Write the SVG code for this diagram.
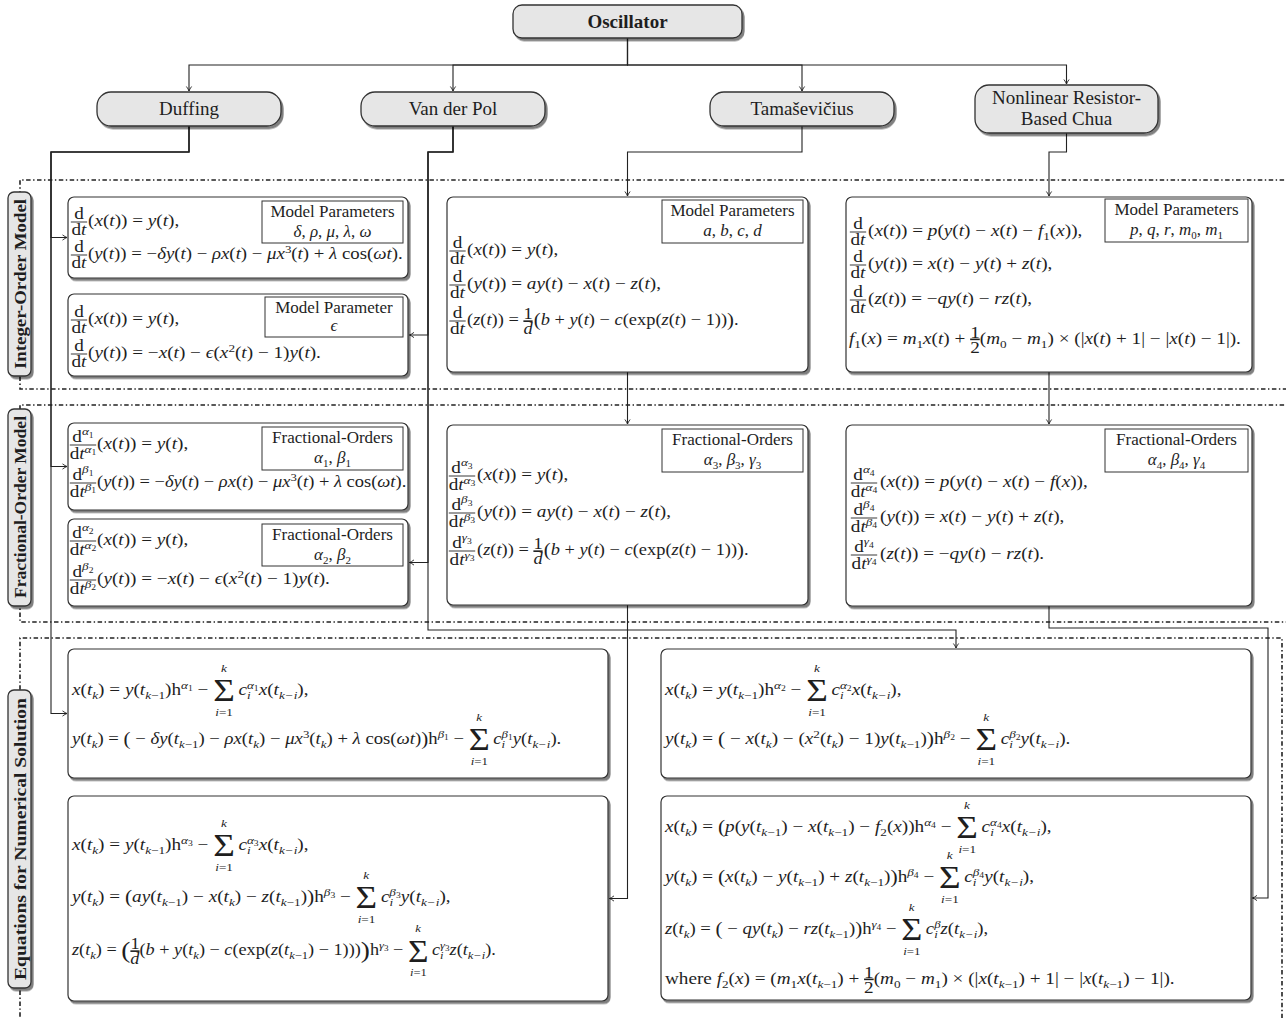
<svg xmlns="http://www.w3.org/2000/svg" width="1286" height="1018" viewBox="0 0 1286 1018">
<style>
.m{font-family:"Liberation Serif","Times New Roman",serif;font-size:16px;fill:#1e1e1e}
.v{font-style:italic}
.u{font-style:normal}
.sp{font-size:11px;baseline-shift:6px}
.sb{font-size:11px;baseline-shift:-3.5px}
.ss{font-size:8px;baseline-shift:-2px;font-style:normal}
.sg{font-size:31px;baseline-shift:-6.4px}
.lk{font-size:11px;baseline-shift:23px;font-style:italic}
.li{font-size:11px;baseline-shift:-21px}
.bp{font-size:18px;baseline-shift:-0.8px}
.Bp{font-size:24px;baseline-shift:-2.6px}
.nu{baseline-shift:6px;text-decoration:underline}
.de{baseline-shift:-9px}
.box{fill:#fff;stroke:#333;stroke-width:1.2;filter:url(#sh)}
.hd{fill:#e6e6e6;stroke:#333;stroke-width:1.3;filter:url(#sh)}
.pb{fill:#fff;stroke:#333;stroke-width:1}
.lb{font-family:"Liberation Serif",serif;font-size:17px;fill:#1e1e1e}
.ht{font-family:"Liberation Serif",serif;font-size:19px;fill:#1e1e1e}
.st{font-family:"Liberation Serif",serif;font-size:17px;font-weight:bold;fill:#1e1e1e}
.sec{fill:none;stroke:#222;stroke-width:1.6;stroke-dasharray:4.5 2.5 1.4 2.5}
.cn{fill:none;stroke:#222;stroke-width:1.1;marker-end:url(#ar)}
.fb{stroke:#1e1e1e;stroke-width:0.8}
</style>
<defs>
<filter id="sh" x="-0.2" y="-0.2" width="1.5" height="1.5"><feDropShadow dx="2" dy="2.5" stdDeviation="0.7" flood-color="#000" flood-opacity="0.5"/></filter>
<marker id="ar" viewBox="-6 -4 7 8" refX="0" refY="0" markerWidth="7" markerHeight="8" orient="auto" markerUnits="userSpaceOnUse"><path d="M-4.5,-2.6 Q-1.8,-0.6 0,0 Q-1.8,0.6 -4.5,2.6" fill="none" stroke="#222" stroke-width="0.9"/></marker>
<g id="ddt"><text class="m" y="-3.5" text-anchor="middle">d</text><line class="fb" x1="-6.8" x2="6.8"/><text class="m" y="13" text-anchor="middle">d<tspan class="v">t</tspan></text></g>
</defs>
<rect width="1286" height="1018" fill="#fff"/>

<g id="sections">
<path class="sec" d="M1295,180 H20 V389 H1295"/>
<path class="sec" d="M1295,405 H20 V622 H1295"/>
<path class="sec" d="M1282,1040 V638 H20 V1040"/>
</g>

<g id="connectors">
<path class="cn" d="M627.5,38 V65 H189 V91"/>
<path class="cn" d="M627.5,38 V65 H453 V91"/>
<path class="cn" d="M627.5,38 V65 H802 V91"/>
<path class="cn" d="M627.5,38 V65 H1066.5 V84"/>
<path class="cn" d="M189,126 V152 H51 V237.5 H67"/>
<path class="cn" d="M189,126 V152 H51 V466.5 H67"/>
<path class="cn" d="M189,126 V152 H51 V713.5 H67"/>
<path class="cn" d="M453,126 V152 H428 V335 H409.5"/>
<path class="cn" d="M453,126 V152 H428 V562.5 H409.5"/>
<path class="cn" d="M453,126 V152 H428 V630 H956 V648"/>
<path class="cn" d="M802,126 V152 H627.5 V196"/>
<path class="cn" d="M627.5,372 V424"/>
<path class="cn" d="M627.5,605 V898.5 H609.5"/>
<path class="cn" d="M1066.5,133 V152 H1049 V196"/>
<path class="cn" d="M1049,372 V424"/>
<path class="cn" d="M1049,606 V628 H1268 V898 H1252.5"/>
</g>

<g id="label-integer">
<rect class="hd" x="8" y="192" width="23" height="184" rx="6"/>
<text class="st" transform="translate(19.5 284) rotate(-90)" y="6" text-anchor="middle" textLength="170" lengthAdjust="spacingAndGlyphs">Integer-Order Model</text>
</g>
<g id="label-fractional">
<rect class="hd" x="8" y="409" width="23" height="197" rx="6"/>
<text class="st" transform="translate(19.5 507) rotate(-90)" y="6" text-anchor="middle" textLength="182" lengthAdjust="spacingAndGlyphs">Fractional-Order Model</text>
</g>
<g id="label-equations">
<rect class="hd" x="8" y="690" width="23" height="298" rx="6"/>
<text class="st" transform="translate(19.5 839) rotate(-90)" y="6" text-anchor="middle" textLength="282" lengthAdjust="spacingAndGlyphs">Equations for Numerical Solution</text>
</g>

<g id="oscillator">
<rect class="hd" x="513" y="5" width="229" height="33" rx="9"/>
<text class="ht" x="627.5" y="28" text-anchor="middle" font-weight="bold" font-size="20">Oscillator</text>
</g>
<g id="duffing">
<rect class="hd" x="97" y="92" width="184" height="34" rx="14"/>
<text class="ht" x="189" y="115" text-anchor="middle">Duffing</text>
</g>
<g id="vanderpol">
<rect class="hd" x="361" y="92" width="184" height="34" rx="14"/>
<text class="ht" x="453" y="115" text-anchor="middle">Van der Pol</text>
</g>
<g id="tamasevicius">
<rect class="hd" x="710" y="92" width="184" height="34" rx="14"/>
<text class="ht" x="802" y="115" text-anchor="middle">Tamaševičius</text>
</g>
<g id="chua">
<rect class="hd" x="975" y="85" width="183" height="48" rx="14"/>
<text class="ht" x="1066.5" y="104" text-anchor="middle">Nonlinear Resistor-</text>
<text class="ht" x="1066.5" y="125" text-anchor="middle">Based Chua</text>
</g>

<g id="duffing-integer">
<rect class="box" x="68" y="197" width="340" height="81" rx="6"/>
<rect class="pb" x="262" y="201" width="141" height="42"/>
<text class="lb" x="332.5" y="217" text-anchor="middle">Model Parameters</text>
<text class="lb" x="332.5" y="237" text-anchor="middle"><tspan class="v">δ</tspan>, <tspan class="v">ρ</tspan>, <tspan class="v">μ</tspan>, <tspan class="v">λ</tspan>, <tspan class="v">ω</tspan></text>
<use href="#ddt" transform="translate(79 222) scale(1.2 1)"/>
<text class="m" transform="translate(88 226) scale(1.2 1)">(<tspan class="v">x</tspan>(<tspan class="v">t</tspan>)) = <tspan class="v">y</tspan>(<tspan class="v">t</tspan>),</text>
<use href="#ddt" transform="translate(79 255) scale(1.2 1)"/>
<text class="m" transform="translate(88 259) scale(1.175 1)">(<tspan class="v">y</tspan>(<tspan class="v">t</tspan>)) = −<tspan class="v">δy</tspan>(<tspan class="v">t</tspan>) − <tspan class="v">ρx</tspan>(<tspan class="v">t</tspan>) − <tspan class="v">μx</tspan><tspan class="sp">3</tspan>(<tspan class="v">t</tspan>) + <tspan class="v">λ</tspan> cos(<tspan class="v">ωt</tspan>).</text>
</g>

<g id="vdp-integer">
<rect class="box" x="68" y="294" width="340" height="82" rx="6"/>
<rect class="pb" x="265" y="297" width="138" height="40"/>
<text class="lb" x="334" y="313" text-anchor="middle">Model Parameter</text>
<text class="lb" x="334" y="331" text-anchor="middle"><tspan class="v">ϵ</tspan></text>
<use href="#ddt" transform="translate(79 320) scale(1.2 1)"/>
<text class="m" transform="translate(88 324) scale(1.2 1)">(<tspan class="v">x</tspan>(<tspan class="v">t</tspan>)) = <tspan class="v">y</tspan>(<tspan class="v">t</tspan>),</text>
<use href="#ddt" transform="translate(79 354) scale(1.2 1)"/>
<text class="m" transform="translate(88 358) scale(1.2 1)">(<tspan class="v">y</tspan>(<tspan class="v">t</tspan>)) = −<tspan class="v">x</tspan>(<tspan class="v">t</tspan>) − <tspan class="v">ϵ</tspan>(<tspan class="v">x</tspan><tspan class="sp">2</tspan>(<tspan class="v">t</tspan>) − 1)<tspan class="v">y</tspan>(<tspan class="v">t</tspan>).</text>
</g>

<g id="duffing-fractional">
<rect class="box" x="68" y="423" width="340" height="87" rx="6"/>
<rect class="pb" x="262" y="427" width="141" height="43"/>
<text class="lb" x="332.5" y="443" text-anchor="middle">Fractional-Orders</text>
<text class="lb" x="332.5" y="463" text-anchor="middle"><tspan class="v">α</tspan><tspan class="sb">1</tspan>, <tspan class="v">β</tspan><tspan class="sb">1</tspan></text>
<g transform="translate(83 445) scale(1.2 1)"><text class="m" y="-3.5" text-anchor="middle">d<tspan class="sp v">α<tspan class="ss">1</tspan></tspan></text><line class="fb" x1="-11" x2="11"/><text class="m" y="14" text-anchor="middle">d<tspan class="v">t</tspan><tspan class="sp v">α<tspan class="ss">1</tspan></tspan></text></g>
<text class="m" transform="translate(97 449) scale(1.2 1)">(<tspan class="v">x</tspan>(<tspan class="v">t</tspan>)) = <tspan class="v">y</tspan>(<tspan class="v">t</tspan>),</text>
<g transform="translate(83 483) scale(1.2 1)"><text class="m" y="-3.5" text-anchor="middle">d<tspan class="sp v">β<tspan class="ss">1</tspan></tspan></text><line class="fb" x1="-11" x2="11"/><text class="m" y="14" text-anchor="middle">d<tspan class="v">t</tspan><tspan class="sp v">β<tspan class="ss">1</tspan></tspan></text></g>
<text class="m" transform="translate(97 487) scale(1.155 1)">(<tspan class="v">y</tspan>(<tspan class="v">t</tspan>)) = −<tspan class="v">δy</tspan>(<tspan class="v">t</tspan>) − <tspan class="v">ρx</tspan>(<tspan class="v">t</tspan>) − <tspan class="v">μx</tspan><tspan class="sp">3</tspan>(<tspan class="v">t</tspan>) + <tspan class="v">λ</tspan> cos(<tspan class="v">ωt</tspan>).</text>
</g>

<g id="vdp-fractional">
<rect class="box" x="68" y="519" width="340" height="87" rx="6"/>
<rect class="pb" x="262" y="524" width="141" height="42"/>
<text class="lb" x="332.5" y="540" text-anchor="middle">Fractional-Orders</text>
<text class="lb" x="332.5" y="560" text-anchor="middle"><tspan class="v">α</tspan><tspan class="sb">2</tspan>, <tspan class="v">β</tspan><tspan class="sb">2</tspan></text>
<g transform="translate(83 541) scale(1.2 1)"><text class="m" y="-3.5" text-anchor="middle">d<tspan class="sp v">α<tspan class="ss">2</tspan></tspan></text><line class="fb" x1="-11" x2="11"/><text class="m" y="14" text-anchor="middle">d<tspan class="v">t</tspan><tspan class="sp v">α<tspan class="ss">2</tspan></tspan></text></g>
<text class="m" transform="translate(97 545) scale(1.2 1)">(<tspan class="v">x</tspan>(<tspan class="v">t</tspan>)) = <tspan class="v">y</tspan>(<tspan class="v">t</tspan>),</text>
<g transform="translate(83 580) scale(1.2 1)"><text class="m" y="-3.5" text-anchor="middle">d<tspan class="sp v">β<tspan class="ss">2</tspan></tspan></text><line class="fb" x1="-11" x2="11"/><text class="m" y="14" text-anchor="middle">d<tspan class="v">t</tspan><tspan class="sp v">β<tspan class="ss">2</tspan></tspan></text></g>
<text class="m" transform="translate(97 584) scale(1.2 1)">(<tspan class="v">y</tspan>(<tspan class="v">t</tspan>)) = −<tspan class="v">x</tspan>(<tspan class="v">t</tspan>) − <tspan class="v">ϵ</tspan>(<tspan class="v">x</tspan><tspan class="sp">2</tspan>(<tspan class="v">t</tspan>) − 1)<tspan class="v">y</tspan>(<tspan class="v">t</tspan>).</text>
</g>

<g id="tama-integer">
<rect class="box" x="447" y="197" width="361" height="175" rx="6"/>
<rect class="pb" x="662" y="200" width="141" height="43"/>
<text class="lb" x="732.5" y="216" text-anchor="middle">Model Parameters</text>
<text class="lb" x="732.5" y="236" text-anchor="middle"><tspan class="v">a</tspan>, <tspan class="v">b</tspan>, <tspan class="v">c</tspan>, <tspan class="v">d</tspan></text>
<use href="#ddt" transform="translate(457.5 251) scale(1.2 1)"/>
<text class="m" transform="translate(467 255) scale(1.2 1)">(<tspan class="v">x</tspan>(<tspan class="v">t</tspan>)) = <tspan class="v">y</tspan>(<tspan class="v">t</tspan>),</text>
<use href="#ddt" transform="translate(457.5 285) scale(1.2 1)"/>
<text class="m" transform="translate(467 289) scale(1.2 1)">(<tspan class="v">y</tspan>(<tspan class="v">t</tspan>)) = <tspan class="v">ay</tspan>(<tspan class="v">t</tspan>) − <tspan class="v">x</tspan>(<tspan class="v">t</tspan>) − <tspan class="v">z</tspan>(<tspan class="v">t</tspan>),</text>
<use href="#ddt" transform="translate(457.5 321) scale(1.2 1)"/>
<text class="m" transform="translate(467 325) scale(1.15 1)">(<tspan class="v">z</tspan>(<tspan class="v">t</tspan>)) = <tspan class="nu">1</tspan><tspan class="de v" dx="-8">d</tspan><tspan class="bp" dx="1">(</tspan><tspan class="v">b</tspan> + <tspan class="v">y</tspan>(<tspan class="v">t</tspan>) − <tspan class="v">c</tspan>(exp(<tspan class="v">z</tspan>(<tspan class="v">t</tspan>) − 1))<tspan class="bp">)</tspan>.</text>
</g>

<g id="tama-fractional">
<rect class="box" x="447" y="425" width="361" height="180" rx="6"/>
<rect class="pb" x="662" y="429" width="141" height="43"/>
<text class="lb" x="732.5" y="445" text-anchor="middle">Fractional-Orders</text>
<text class="lb" x="732.5" y="465" text-anchor="middle"><tspan class="v">α</tspan><tspan class="sb">3</tspan>, <tspan class="v">β</tspan><tspan class="sb">3</tspan>, <tspan class="v">γ</tspan><tspan class="sb">3</tspan></text>
<g transform="translate(462 476) scale(1.2 1)"><text class="m" y="-3.5" text-anchor="middle">d<tspan class="sp v">α<tspan class="ss">3</tspan></tspan></text><line class="fb" x1="-11" x2="11"/><text class="m" y="14" text-anchor="middle">d<tspan class="v">t</tspan><tspan class="sp v">α<tspan class="ss">3</tspan></tspan></text></g>
<text class="m" transform="translate(477 480) scale(1.2 1)">(<tspan class="v">x</tspan>(<tspan class="v">t</tspan>)) = <tspan class="v">y</tspan>(<tspan class="v">t</tspan>),</text>
<g transform="translate(462 513) scale(1.2 1)"><text class="m" y="-3.5" text-anchor="middle">d<tspan class="sp v">β<tspan class="ss">3</tspan></tspan></text><line class="fb" x1="-11" x2="11"/><text class="m" y="14" text-anchor="middle">d<tspan class="v">t</tspan><tspan class="sp v">β<tspan class="ss">3</tspan></tspan></text></g>
<text class="m" transform="translate(477 517) scale(1.2 1)">(<tspan class="v">y</tspan>(<tspan class="v">t</tspan>)) = <tspan class="v">ay</tspan>(<tspan class="v">t</tspan>) − <tspan class="v">x</tspan>(<tspan class="v">t</tspan>) − <tspan class="v">z</tspan>(<tspan class="v">t</tspan>),</text>
<g transform="translate(462 551) scale(1.2 1)"><text class="m" y="-3.5" text-anchor="middle">d<tspan class="sp v">γ<tspan class="ss">3</tspan></tspan></text><line class="fb" x1="-11" x2="11"/><text class="m" y="14" text-anchor="middle">d<tspan class="v">t</tspan><tspan class="sp v">γ<tspan class="ss">3</tspan></tspan></text></g>
<text class="m" transform="translate(477 555) scale(1.15 1)">(<tspan class="v">z</tspan>(<tspan class="v">t</tspan>)) = <tspan class="nu">1</tspan><tspan class="de v" dx="-8">d</tspan><tspan class="bp" dx="1">(</tspan><tspan class="v">b</tspan> + <tspan class="v">y</tspan>(<tspan class="v">t</tspan>) − <tspan class="v">c</tspan>(exp(<tspan class="v">z</tspan>(<tspan class="v">t</tspan>) − 1))<tspan class="bp">)</tspan>.</text>
</g>

<g id="chua-integer">
<rect class="box" x="846" y="197" width="406" height="175" rx="6"/>
<rect class="pb" x="1105" y="199" width="143" height="43"/>
<text class="lb" x="1176.5" y="215" text-anchor="middle">Model Parameters</text>
<text class="lb" x="1176.5" y="235" text-anchor="middle"><tspan class="v">p</tspan>, <tspan class="v">q</tspan>, <tspan class="v">r</tspan>, <tspan class="v">m</tspan><tspan class="sb">0</tspan>, <tspan class="v">m</tspan><tspan class="sb">1</tspan></text>
<use href="#ddt" transform="translate(858 232) scale(1.2 1)"/>
<text class="m" transform="translate(868 236) scale(1.2 1)">(<tspan class="v">x</tspan>(<tspan class="v">t</tspan>)) = <tspan class="v">p</tspan>(<tspan class="v">y</tspan>(<tspan class="v">t</tspan>) − <tspan class="v">x</tspan>(<tspan class="v">t</tspan>) − <tspan class="v">f</tspan><tspan class="sb">1</tspan>(<tspan class="v">x</tspan>)),</text>
<use href="#ddt" transform="translate(858 265) scale(1.2 1)"/>
<text class="m" transform="translate(868 269) scale(1.2 1)">(<tspan class="v">y</tspan>(<tspan class="v">t</tspan>)) = <tspan class="v">x</tspan>(<tspan class="v">t</tspan>) − <tspan class="v">y</tspan>(<tspan class="v">t</tspan>) + <tspan class="v">z</tspan>(<tspan class="v">t</tspan>),</text>
<use href="#ddt" transform="translate(858 300) scale(1.2 1)"/>
<text class="m" transform="translate(868 304) scale(1.2 1)">(<tspan class="v">z</tspan>(<tspan class="v">t</tspan>)) = −<tspan class="v">qy</tspan>(<tspan class="v">t</tspan>) − <tspan class="v">rz</tspan>(<tspan class="v">t</tspan>),</text>
<text class="m" transform="translate(849 344) scale(1.2 1)"><tspan class="v">f</tspan><tspan class="sb">1</tspan>(<tspan class="v">x</tspan>) = <tspan class="v">m</tspan><tspan class="sb">1</tspan><tspan class="v">x</tspan>(<tspan class="v">t</tspan>) + <tspan class="nu">1</tspan><tspan class="de" dx="-8">2</tspan>(<tspan class="v">m</tspan><tspan class="sb">0</tspan> − <tspan class="v">m</tspan><tspan class="sb">1</tspan>) × (|<tspan class="v">x</tspan>(<tspan class="v">t</tspan>) + 1| − |<tspan class="v">x</tspan>(<tspan class="v">t</tspan>) − 1|).</text>
</g>

<g id="chua-fractional">
<rect class="box" x="846" y="425" width="406" height="181" rx="6"/>
<rect class="pb" x="1105" y="429" width="143" height="43"/>
<text class="lb" x="1176.5" y="445" text-anchor="middle">Fractional-Orders</text>
<text class="lb" x="1176.5" y="465" text-anchor="middle"><tspan class="v">α</tspan><tspan class="sb">4</tspan>, <tspan class="v">β</tspan><tspan class="sb">4</tspan>, <tspan class="v">γ</tspan><tspan class="sb">4</tspan></text>
<g transform="translate(864 483) scale(1.2 1)"><text class="m" y="-3.5" text-anchor="middle">d<tspan class="sp v">α<tspan class="ss">4</tspan></tspan></text><line class="fb" x1="-11" x2="11"/><text class="m" y="14" text-anchor="middle">d<tspan class="v">t</tspan><tspan class="sp v">α<tspan class="ss">4</tspan></tspan></text></g>
<text class="m" transform="translate(880 487) scale(1.2 1)">(<tspan class="v">x</tspan>(<tspan class="v">t</tspan>)) = <tspan class="v">p</tspan>(<tspan class="v">y</tspan>(<tspan class="v">t</tspan>) − <tspan class="v">x</tspan>(<tspan class="v">t</tspan>) − <tspan class="v">f</tspan>(<tspan class="v">x</tspan>)),</text>
<g transform="translate(864 518) scale(1.2 1)"><text class="m" y="-3.5" text-anchor="middle">d<tspan class="sp v">β<tspan class="ss">4</tspan></tspan></text><line class="fb" x1="-11" x2="11"/><text class="m" y="14" text-anchor="middle">d<tspan class="v">t</tspan><tspan class="sp v">β<tspan class="ss">4</tspan></tspan></text></g>
<text class="m" transform="translate(880 522) scale(1.2 1)">(<tspan class="v">y</tspan>(<tspan class="v">t</tspan>)) = <tspan class="v">x</tspan>(<tspan class="v">t</tspan>) − <tspan class="v">y</tspan>(<tspan class="v">t</tspan>) + <tspan class="v">z</tspan>(<tspan class="v">t</tspan>),</text>
<g transform="translate(864 555) scale(1.2 1)"><text class="m" y="-3.5" text-anchor="middle">d<tspan class="sp v">γ<tspan class="ss">4</tspan></tspan></text><line class="fb" x1="-11" x2="11"/><text class="m" y="14" text-anchor="middle">d<tspan class="v">t</tspan><tspan class="sp v">γ<tspan class="ss">4</tspan></tspan></text></g>
<text class="m" transform="translate(880 559) scale(1.2 1)">(<tspan class="v">z</tspan>(<tspan class="v">t</tspan>)) = −<tspan class="v">qy</tspan>(<tspan class="v">t</tspan>) − <tspan class="v">rz</tspan>(<tspan class="v">t</tspan>).</text>
</g>

<g id="duffing-numerical">
<rect class="box" x="68" y="649" width="540" height="129" rx="6"/>
<text class="m" transform="translate(72 695) scale(1.2 1)"><tspan class="v">x</tspan>(<tspan class="v">t<tspan class="sb">k</tspan></tspan>) = <tspan class="v">y</tspan>(<tspan class="v">t<tspan class="sb">k<tspan class="u">−1</tspan></tspan></tspan>)h<tspan class="sp v">α<tspan class="ss">1</tspan></tspan> − <tspan class="sg">Σ</tspan><tspan class="lk" dx="-11.6">k</tspan><tspan class="li" dx="-9.6"><tspan class="v">i</tspan>=1</tspan><tspan class="v" dx="4.6">c</tspan><tspan class="sb v">i</tspan><tspan class="sp v" dx="-3.1">α<tspan class="ss">1</tspan></tspan><tspan class="v">x</tspan>(<tspan class="v">t<tspan class="sb">k−i</tspan></tspan>),</text>
<text class="m" transform="translate(72 744) scale(1.17 1)"><tspan class="v">y</tspan>(<tspan class="v">t<tspan class="sb">k</tspan></tspan>) = <tspan class="bp">(</tspan> − <tspan class="v">δy</tspan>(<tspan class="v">t<tspan class="sb">k<tspan class="u">−1</tspan></tspan></tspan>) − <tspan class="v">ρx</tspan>(<tspan class="v">t<tspan class="sb">k</tspan></tspan>) − <tspan class="v">μx</tspan><tspan class="sp">3</tspan>(<tspan class="v">t<tspan class="sb">k</tspan></tspan>) + <tspan class="v">λ</tspan> cos(<tspan class="v">ωt</tspan>)<tspan class="bp">)</tspan>h<tspan class="sp v">β<tspan class="ss">1</tspan></tspan> − <tspan class="sg">Σ</tspan><tspan class="lk" dx="-11.6">k</tspan><tspan class="li" dx="-9.6"><tspan class="v">i</tspan>=1</tspan><tspan class="v" dx="4.6">c</tspan><tspan class="sb v">i</tspan><tspan class="sp v" dx="-3.1">β<tspan class="ss">1</tspan></tspan><tspan class="v">y</tspan>(<tspan class="v">t<tspan class="sb">k−i</tspan></tspan>).</text>
</g>

<g id="vdp-numerical">
<rect class="box" x="661" y="649" width="590" height="129" rx="6"/>
<text class="m" transform="translate(665 695) scale(1.2 1)"><tspan class="v">x</tspan>(<tspan class="v">t<tspan class="sb">k</tspan></tspan>) = <tspan class="v">y</tspan>(<tspan class="v">t<tspan class="sb">k<tspan class="u">−1</tspan></tspan></tspan>)h<tspan class="sp v">α<tspan class="ss">2</tspan></tspan> − <tspan class="sg">Σ</tspan><tspan class="lk" dx="-11.6">k</tspan><tspan class="li" dx="-9.6"><tspan class="v">i</tspan>=1</tspan><tspan class="v" dx="4.6">c</tspan><tspan class="sb v">i</tspan><tspan class="sp v" dx="-3.1">α<tspan class="ss">2</tspan></tspan><tspan class="v">x</tspan>(<tspan class="v">t<tspan class="sb">k−i</tspan></tspan>),</text>
<text class="m" transform="translate(665 744) scale(1.2 1)"><tspan class="v">y</tspan>(<tspan class="v">t<tspan class="sb">k</tspan></tspan>) = <tspan class="bp">(</tspan> − <tspan class="v">x</tspan>(<tspan class="v">t<tspan class="sb">k</tspan></tspan>) − (<tspan class="v">x</tspan><tspan class="sp">2</tspan>(<tspan class="v">t<tspan class="sb">k</tspan></tspan>) − 1)<tspan class="v">y</tspan>(<tspan class="v">t<tspan class="sb">k<tspan class="u">−1</tspan></tspan></tspan>)<tspan class="bp">)</tspan>h<tspan class="sp v">β<tspan class="ss">2</tspan></tspan> − <tspan class="sg">Σ</tspan><tspan class="lk" dx="-11.6">k</tspan><tspan class="li" dx="-9.6"><tspan class="v">i</tspan>=1</tspan><tspan class="v" dx="4.6">c</tspan><tspan class="sb v">i</tspan><tspan class="sp v" dx="-3.1">β<tspan class="ss">2</tspan></tspan><tspan class="v">y</tspan>(<tspan class="v">t<tspan class="sb">k−i</tspan></tspan>).</text>
</g>

<g id="tama-numerical">
<rect class="box" x="68" y="796" width="540" height="205" rx="6"/>
<text class="m" transform="translate(72 850) scale(1.2 1)"><tspan class="v">x</tspan>(<tspan class="v">t<tspan class="sb">k</tspan></tspan>) = <tspan class="v">y</tspan>(<tspan class="v">t<tspan class="sb">k<tspan class="u">−1</tspan></tspan></tspan>)h<tspan class="sp v">α<tspan class="ss">3</tspan></tspan> − <tspan class="sg">Σ</tspan><tspan class="lk" dx="-11.6">k</tspan><tspan class="li" dx="-9.6"><tspan class="v">i</tspan>=1</tspan><tspan class="v" dx="4.6">c</tspan><tspan class="sb v">i</tspan><tspan class="sp v" dx="-3.1">α<tspan class="ss">3</tspan></tspan><tspan class="v">x</tspan>(<tspan class="v">t<tspan class="sb">k−i</tspan></tspan>),</text>
<text class="m" transform="translate(72 902) scale(1.2 1)"><tspan class="v">y</tspan>(<tspan class="v">t<tspan class="sb">k</tspan></tspan>) = <tspan class="bp">(</tspan><tspan class="v">ay</tspan>(<tspan class="v">t<tspan class="sb">k<tspan class="u">−1</tspan></tspan></tspan>) − <tspan class="v">x</tspan>(<tspan class="v">t<tspan class="sb">k</tspan></tspan>) − <tspan class="v">z</tspan>(<tspan class="v">t<tspan class="sb">k<tspan class="u">−1</tspan></tspan></tspan>)<tspan class="bp">)</tspan>h<tspan class="sp v">β<tspan class="ss">3</tspan></tspan> − <tspan class="sg">Σ</tspan><tspan class="lk" dx="-11.6">k</tspan><tspan class="li" dx="-9.6"><tspan class="v">i</tspan>=1</tspan><tspan class="v" dx="4.6">c</tspan><tspan class="sb v">i</tspan><tspan class="sp v" dx="-3.1">β<tspan class="ss">3</tspan></tspan><tspan class="v">y</tspan>(<tspan class="v">t<tspan class="sb">k−i</tspan></tspan>),</text>
<text class="m" transform="translate(72 955) scale(1.14 1)"><tspan class="v">z</tspan>(<tspan class="v">t<tspan class="sb">k</tspan></tspan>) = <tspan class="Bp">(</tspan><tspan class="nu">1</tspan><tspan class="de v" dx="-8">d</tspan>(<tspan class="v">b</tspan> + <tspan class="v">y</tspan>(<tspan class="v">t<tspan class="sb">k</tspan></tspan>) − <tspan class="v">c</tspan>(exp(<tspan class="v">z</tspan>(<tspan class="v">t<tspan class="sb">k<tspan class="u">−1</tspan></tspan></tspan>) − 1)))<tspan class="Bp">)</tspan>h<tspan class="sp v">γ<tspan class="ss">3</tspan></tspan> − <tspan class="sg">Σ</tspan><tspan class="lk" dx="-11.6">k</tspan><tspan class="li" dx="-9.6"><tspan class="v">i</tspan>=1</tspan><tspan class="v" dx="4.6">c</tspan><tspan class="sb v">i</tspan><tspan class="sp v" dx="-3.1">γ<tspan class="ss">3</tspan></tspan><tspan class="v">z</tspan>(<tspan class="v">t<tspan class="sb">k−i</tspan></tspan>).</text>
</g>

<g id="chua-numerical">
<rect class="box" x="661" y="796" width="590" height="204" rx="6"/>
<text class="m" transform="translate(665 832) scale(1.2 1)"><tspan class="v">x</tspan>(<tspan class="v">t<tspan class="sb">k</tspan></tspan>) = <tspan class="bp">(</tspan><tspan class="v">p</tspan>(<tspan class="v">y</tspan>(<tspan class="v">t<tspan class="sb">k<tspan class="u">−1</tspan></tspan></tspan>) − <tspan class="v">x</tspan>(<tspan class="v">t<tspan class="sb">k<tspan class="u">−1</tspan></tspan></tspan>) − <tspan class="v">f</tspan><tspan class="sb">2</tspan>(<tspan class="v">x</tspan>))h<tspan class="sp v">α<tspan class="ss">4</tspan></tspan> − <tspan class="sg">Σ</tspan><tspan class="lk" dx="-11.6">k</tspan><tspan class="li" dx="-9.6"><tspan class="v">i</tspan>=1</tspan><tspan class="v" dx="4.6">c</tspan><tspan class="sb v">i</tspan><tspan class="sp v" dx="-3.1">α<tspan class="ss">4</tspan></tspan><tspan class="v">x</tspan>(<tspan class="v">t<tspan class="sb">k−i</tspan></tspan>),</text>
<text class="m" transform="translate(665 882) scale(1.2 1)"><tspan class="v">y</tspan>(<tspan class="v">t<tspan class="sb">k</tspan></tspan>) = <tspan class="bp">(</tspan><tspan class="v">x</tspan>(<tspan class="v">t<tspan class="sb">k</tspan></tspan>) − <tspan class="v">y</tspan>(<tspan class="v">t<tspan class="sb">k<tspan class="u">−1</tspan></tspan></tspan>) + <tspan class="v">z</tspan>(<tspan class="v">t<tspan class="sb">k<tspan class="u">−1</tspan></tspan></tspan>)<tspan class="bp">)</tspan>h<tspan class="sp v">β<tspan class="ss">4</tspan></tspan> − <tspan class="sg">Σ</tspan><tspan class="lk" dx="-11.6">k</tspan><tspan class="li" dx="-9.6"><tspan class="v">i</tspan>=1</tspan><tspan class="v" dx="4.6">c</tspan><tspan class="sb v">i</tspan><tspan class="sp v" dx="-3.1">β<tspan class="ss">4</tspan></tspan><tspan class="v">y</tspan>(<tspan class="v">t<tspan class="sb">k−i</tspan></tspan>),</text>
<text class="m" transform="translate(665 934) scale(1.17 1)"><tspan class="v">z</tspan>(<tspan class="v">t<tspan class="sb">k</tspan></tspan>) = <tspan class="bp">(</tspan> − <tspan class="v">qy</tspan>(<tspan class="v">t<tspan class="sb">k</tspan></tspan>) − <tspan class="v">rz</tspan>(<tspan class="v">t<tspan class="sb">k<tspan class="u">−1</tspan></tspan></tspan>)<tspan class="bp">)</tspan>h<tspan class="sp v">γ<tspan class="ss">4</tspan></tspan> − <tspan class="sg">Σ</tspan><tspan class="lk" dx="-11.6">k</tspan><tspan class="li" dx="-9.6"><tspan class="v">i</tspan>=1</tspan><tspan class="v" dx="4.6">c</tspan><tspan class="sb v">i</tspan><tspan class="sp v" dx="-3.1">β</tspan><tspan class="v">z</tspan>(<tspan class="v">t<tspan class="sb">k−i</tspan></tspan>),</text>
<text class="m" transform="translate(665 984) scale(1.2 1)">where <tspan class="v">f</tspan><tspan class="sb">2</tspan>(<tspan class="v">x</tspan>) = (<tspan class="v">m</tspan><tspan class="sb">1</tspan><tspan class="v">x</tspan>(<tspan class="v">t<tspan class="sb">k<tspan class="u">−1</tspan></tspan></tspan>) + <tspan class="nu">1</tspan><tspan class="de" dx="-8">2</tspan>(<tspan class="v">m</tspan><tspan class="sb">0</tspan> − <tspan class="v">m</tspan><tspan class="sb">1</tspan>) × (|<tspan class="v">x</tspan>(<tspan class="v">t<tspan class="sb">k<tspan class="u">−1</tspan></tspan></tspan>) + 1| − |<tspan class="v">x</tspan>(<tspan class="v">t<tspan class="sb">k<tspan class="u">−1</tspan></tspan></tspan>) − 1|).</text>
</g>
</svg>
